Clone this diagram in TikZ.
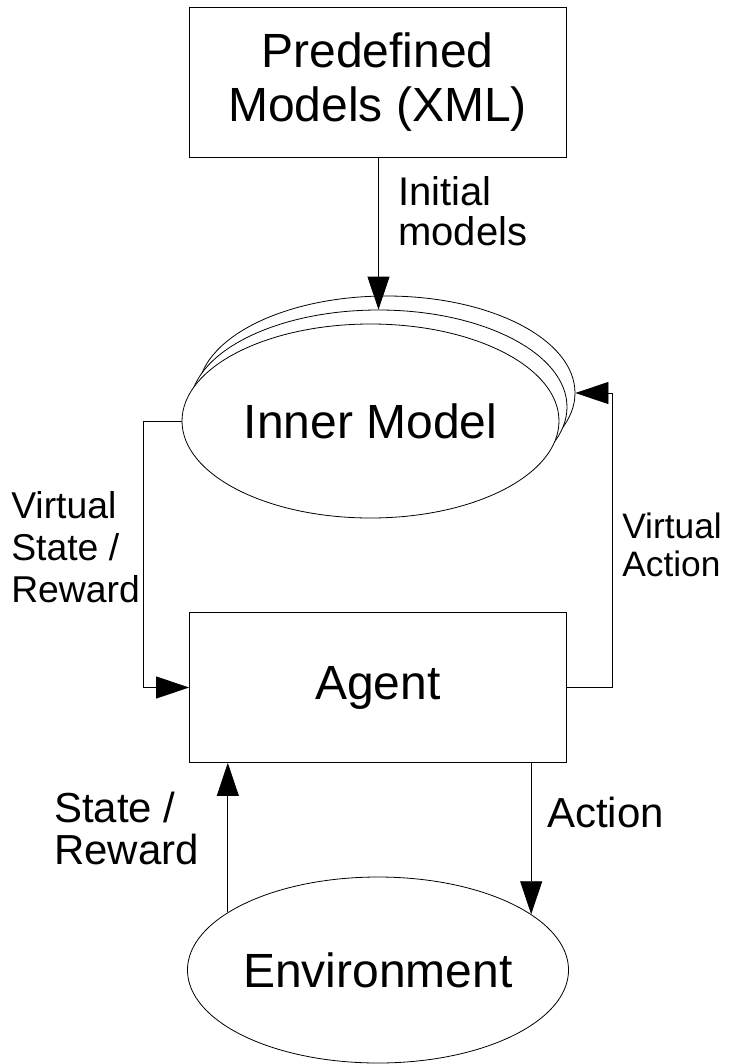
\documentclass[tikz,border=0pt]{standalone}
\usepackage{fontspec}
\setmainfont{Liberation Sans}
\usetikzlibrary{shapes.geometric,arrows.meta,positioning}

\begin{document}
\begin{tikzpicture}[x=0.75pt,y=0.75pt,yscale=-1,xscale=1,
  boxnode/.style={draw,line width=0.6pt,minimum width=282.75pt,minimum height=112.5pt,inner sep=0pt,align=center,font=\fontsize{36}{40}\selectfont},
  ovalnode/.style={draw,fill=white,ellipse,line width=0.6pt,inner sep=0pt,font=\fontsize{36}{40}\selectfont},
  labeltext/.style={inner sep=0pt,align=left,font=\fontsize{27}{31}\selectfont},
  flow/.style={line width=0.6pt,-{Triangle[length=24.75pt,width=16.5pt]}}]
\useasboundingbox (0,0) rectangle (731,1064);

%Shape: Rectangle
\node[boxnode] (predef) at (377.5,82) {Predefined\\Models (XML)};

%Shape: Ellipse stack
\node[ovalnode,minimum width=282.75pt,minimum height=145.5pt] (back) at (386.5,393) {};
\node[ovalnode,minimum width=282.75pt,minimum height=145.5pt] (middle) at (378.5,407) {};
\node[ovalnode,minimum width=282.75pt,minimum height=145.5pt] (inner) at (370.5,421) {Inner Model};

%Shape: Rectangle
\node[boxnode] (agent) at (378,687.5) {Agent};

%Shape: Ellipse
\node[ovalnode,minimum width=283.5pt,minimum height=139.5pt] (env) at (378,970) {Environment};

%Straight Lines
\draw[flow] (predef.south -| middle.north) -- (middle.north);

\coordinate (vsbend) at (143,687.5);
\draw[flow] (inner.west) -| (vsbend) -- (agent.west);

\coordinate (vabend) at (612,687.5);
\draw[flow] (agent.east) -- (vabend) |- (back.east);

\draw[flow] (agent.south -| env.20.3) -- (env.20.3);
\draw[flow] (env.159.7) -- (env.159.7 |- agent.south);

% Text Node
\node[labeltext,anchor=west,font=\fontsize{30}{30}\selectfont] (initlbl) at (398,211) {Initial\\models};
% Text Node
\node[labeltext,anchor=west,font=\fontsize{28}{31.5}\selectfont] (vstlbl) at (11,547) {Virtual\\State /\\Reward};
% Text Node
\node[labeltext,anchor=west,font=\fontsize{26.5}{28.5}\selectfont] (valbl) at (622,545) {Virtual\\Action};
% Text Node
\node[labeltext,anchor=west,font=\fontsize{31.5}{31.5}\selectfont] (stlbl) at (54,828) {State /\\Reward};
% Text Node
\node[labeltext,anchor=west,font=\fontsize{31.5}{31.5}\selectfont] (aclbl) at (547,812) {Action};

\end{tikzpicture}
\end{document}
